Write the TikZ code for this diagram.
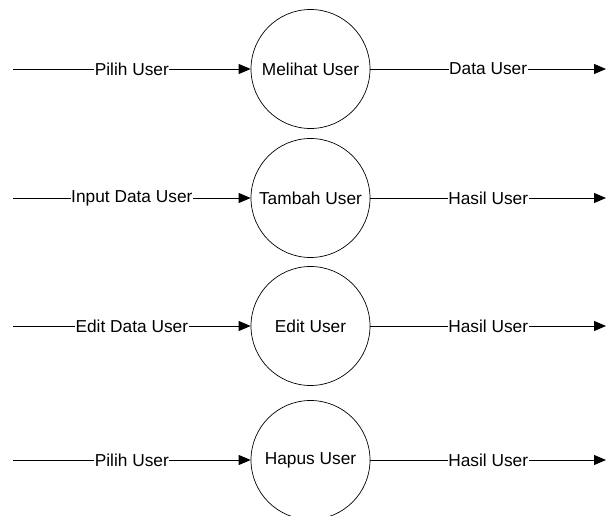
\documentclass[tikz,border=0pt]{standalone}
\usepackage{fontspec}
\setmainfont{Liberation Sans}
\usetikzlibrary{arrows.meta}
\begin{document}
\begin{tikzpicture}[x=1bp,y=-1bp,
  proc/.style={draw, circle, minimum size=119bp, inner sep=0pt, line width=0.7bp, font=\fontsize{17.3bp}{19bp}\selectfont},
  flow/.style={draw, line width=0.8bp, -{Triangle[length=12bp,width=10bp]}},
  lbl/.style={fill=white, inner sep=0.5bp, font=\fontsize{17.3bp}{19bp}\selectfont}]
\useasboundingbox (0,0) rectangle (608,516);
\begin{scope}
\clip (0,0) rectangle (608,516);
\foreach \n/\y/\proc/\inl/\outl in {a/69/Melihat User/Pilih User/Data User,
  b/198/Tambah User/Input Data User/Hasil User,
  c/326/Edit User/Edit Data User/Hasil User,
  d/460/Hapus User/Pilih User/Hasil User}{
  \node[proc] (p\n) at (310.5,\y) {\proc};
  \coordinate (s\n) at (13,\y);
  \coordinate (e\n) at (606,\y);
  \draw[flow] (s\n) -- node[lbl] {\inl} (p\n);
  \draw[flow] (p\n) -- node[lbl] {\outl} (e\n);
}
\end{scope}
\end{tikzpicture}
\end{document}
